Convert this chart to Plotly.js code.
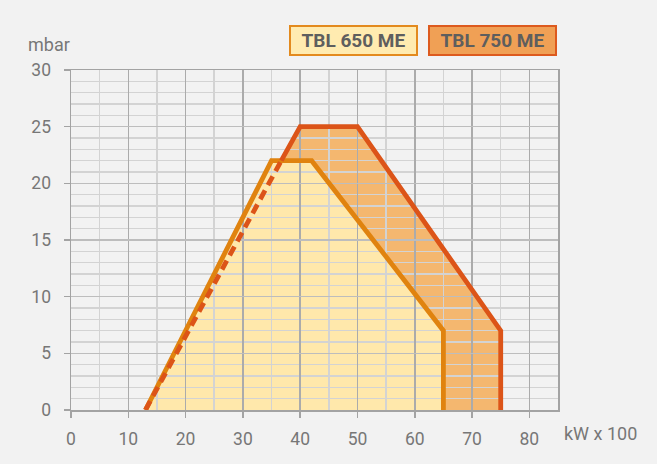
<!DOCTYPE html>
<html><head><meta charset="utf-8">
<script src="https://cdn.plot.ly/plotly-3.0.1.min.js"></script>
<style>html,body{margin:0;padding:0;background:#F2F2F2}</style>
</head><body><div id="chart" style="width:657px;height:464px"></div>
<script>
// ---- data ----
const seriesNames = ['TBL 650 ME', 'TBL 750 ME'];
const x650 = [13, 35, 42, 65, 65];
const y650 = [0, 22, 22, 7, 0];
const x750Dash = [13, 36.7];
const y750Dash = [0, 22];
const x750 = [36.7, 40, 50, 75, 75];
const y750 = [22, 25, 25, 7, 0];
const xTickVals = [0, 10, 20, 30, 40, 50, 60, 70, 80];
const yTickVals = [0, 5, 10, 15, 20, 25, 30];
const xUnit = 'kW x 100';
const yUnit = 'mbar';

const c650Line = '#E0830F', c650Fill = '#FFE8AB';
const c750Line = '#DC5418', c750Fill = '#F4B76F';
const txt = '#777777';
const fontFam = 'Roboto, "DejaVu Sans", sans-serif';

const traces = [
  {x: x750Dash.concat(x750), y: y750Dash.concat(y750), xaxis: 'x', yaxis: 'y', mode: 'lines', fill: 'toself', fillcolor: c750Fill, line: {width: 0}, hoverinfo: 'skip'},
  {x: x650, y: y650, xaxis: 'x', yaxis: 'y', mode: 'lines', fill: 'toself', fillcolor: c650Fill, line: {width: 0}, hoverinfo: 'skip'},
  {x: x650, y: y650, xaxis: 'x2', yaxis: 'y2', mode: 'lines', line: {color: c650Line, width: 4.8}, name: seriesNames[0]},
  {x: x750Dash, y: y750Dash, xaxis: 'x2', yaxis: 'y2', mode: 'lines', line: {color: c750Line, width: 4.8, dash: '10px,6px'}, name: seriesNames[1]},
  {x: x750, y: y750, xaxis: 'x2', yaxis: 'y2', mode: 'lines', line: {color: c750Line, width: 4.8}, name: seriesNames[1]}
];

const hiddenAxis = {showgrid: false, zeroline: false, showline: false, showticklabels: false, ticks: ''};

const layout = {
  width: 657, height: 464,
  margin: {l: 71, r: 99, t: 70, b: 54},
  paper_bgcolor: '#F2F2F2',
  plot_bgcolor: 'rgba(0,0,0,0)',
  showlegend: false,
  font: {family: fontFam, color: txt, size: 17},
  xaxis: Object.assign({range: [0, 85], anchor: 'y', domain: [0, 1]}, hiddenAxis),
  yaxis: Object.assign({range: [0, 30], anchor: 'x', domain: [0, 1]}, hiddenAxis),
  xaxis2: {
    range: [0, 85], anchor: 'y2', domain: [0, 1],
    tickvals: xTickVals, ticktext: xTickVals.map(String),
    showgrid: true, gridcolor: '#ABABAB', gridwidth: 1.5,
    minor: {dtick: 5, tick0: 0, showgrid: true, gridcolor: '#D3D3D3', gridwidth: 1.5},
    showline: true, linecolor: '#A3A3A3', linewidth: 1.5, mirror: true,
    ticks: 'outside', ticklen: 6, tickwidth: 1.5, tickcolor: '#A3A3A3',
    ticklabelstandoff: 6,
    zeroline: false, tickfont: {size: 17.5, color: txt, family: fontFam}
  },
  yaxis2: {
    range: [0, 30], anchor: 'x2', domain: [0, 1],
    tickvals: yTickVals, ticktext: yTickVals.map(String),
    showgrid: true, gridcolor: '#BDBDBD', gridwidth: 1.5,
    minor: {dtick: 1, tick0: 0, showgrid: true, gridcolor: '#D3D3D3', gridwidth: 1.5},
    showline: true, linecolor: '#A3A3A3', linewidth: 1.5, mirror: true,
    ticks: 'outside', ticklen: 6, tickwidth: 1.5, tickcolor: '#A3A3A3',
    ticklabelstandoff: 9,
    zeroline: false, tickfont: {size: 17.5, color: txt, family: fontFam}
  },
  annotations: [
    {text: yUnit, xref: 'paper', yref: 'paper', x: -0.045, y: 1.076, xanchor: 'center', yanchor: 'middle', showarrow: false, font: {size: 18, color: txt, family: fontFam}},
    {text: xUnit, xref: 'paper', yref: 'paper', x: 1.008, y: -0.068, xanchor: 'left', yanchor: 'middle', showarrow: false, font: {size: 18, color: txt, family: fontFam}},
    {text: '<b>' + seriesNames[0] + '</b>', xref: 'paper', yref: 'paper', x: 0.4476, y: 1.1324, xanchor: 'left', yanchor: 'top', showarrow: false,
     width: 125, height: 27, borderpad: 0, borderwidth: 2, bgcolor: '#FFEBB0', bordercolor: '#E38A1E', font: {size: 19, color: '#5E5E5E', family: fontFam}},
    {text: '<b>' + seriesNames[1] + '</b>', xref: 'paper', yref: 'paper', x: 0.733, y: 1.1324, xanchor: 'left', yanchor: 'top', showarrow: false,
     width: 125, height: 27, borderpad: 0, borderwidth: 2, bgcolor: '#F0A055', bordercolor: '#DD5A1E', font: {size: 19, color: '#5E5E5E', family: fontFam}}
  ]
};

Plotly.newPlot('chart', traces, layout, {staticPlot: true, displayModeBar: false});
</script>
</body></html>
